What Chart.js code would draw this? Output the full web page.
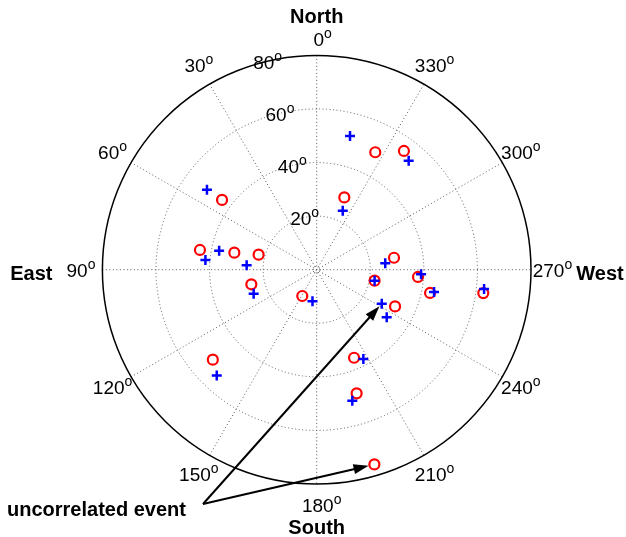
<!DOCTYPE html>
<html><head><meta charset="utf-8">
<script src="https://cdn.jsdelivr.net/npm/chart.js@4/dist/chart.umd.min.js"></script>
<style>html,body{margin:0;padding:0;background:#fff;}#wrap{width:626px;height:537px;position:relative;}</style>
</head><body><div id="wrap"><canvas id="c"></canvas></div>
<script>
// Sky plot: azimuth (deg, counter-clockwise from North, East on the left) and zenith angle (deg)
const redAzimuth = [333.5, 323.7, 53.6, 339.1, 80.4, 78.3, 75.5, 278.8, 259.3, 265.9, 258.4, 262.0, 244.9, 203.0, 197.9, 102.6, 151.3, 130.9, 196.5];
const redZenith  = [49.0, 55.0, 43.9, 28.9, 44.2, 31.4, 22.4, 29.2, 22.0, 37.9, 43.2, 62.8, 32.3, 35.7, 48.5, 25.0, 11.2, 51.3, 75.8];
const blueAzimuth = [346.0, 319.8, 53.9, 336.2, 79.0, 85.0, 86.4, 275.3, 259.3, 267.5, 259.2, 263.4, 242.4, 235.8, 207.6, 195.2, 110.9, 172.4, 136.6];
const blueZenith  = [51.4, 53.2, 50.7, 24.1, 37.1, 41.7, 26.2, 25.7, 22.0, 39.0, 44.6, 62.9, 27.4, 31.6, 37.6, 50.7, 25.2, 11.9, 54.3];
const ringValues = [20, 40, 60, 80];
const spokeAngles = [0, 30, 60, 90, 120, 150, 180, 210, 240, 270, 300, 330];
const cardinalLabels = ['North', 'East', 'South', 'West'];
const annotationText = 'uncorrelated event';
const uncorrelatedBlue = 12;
const uncorrelatedRed = 18;
const RMAX = 80;

const FONT = '"Liberation Sans", Arial, Helvetica, sans-serif';
const NUM_SIZE = 19;

function toXY(az, z) {
  const a = az * Math.PI / 180;
  return { x: -z * Math.sin(a), y: z * Math.cos(a) };
}

function degLabel(ctx, text, x, y, size) {
  ctx.textAlign = 'left';
  ctx.textBaseline = 'alphabetic';
  ctx.font = size + 'px ' + FONT;
  const w1 = ctx.measureText(text).width;
  const sup = Math.round(size * 0.76);
  ctx.font = sup + 'px ' + FONT;
  const w2 = ctx.measureText('o').width;
  const total = w1 + w2;
  const x0 = x - total / 2;
  const base = y + 0.358 * size;
  ctx.font = size + 'px ' + FONT;
  ctx.fillText(text, x0, base);
  ctx.font = sup + 'px ' + FONT;
  ctx.fillText('o', x0 + w1, base - 0.42 * size);
}

const polarGrid = {
  id: 'polarGrid',
  beforeDatasetsDraw(chart) {
    const ctx = chart.ctx, xs = chart.scales.x, ys = chart.scales.y;
    const cx = xs.getPixelForValue(0), cy = ys.getPixelForValue(0);
    const R = xs.getPixelForValue(RMAX) - cx;
    const k = R / RMAX;
    ctx.save();
    // dotted rings
    ctx.strokeStyle = '#5a5a5a';
    ctx.lineWidth = 1;
    ctx.setLineDash([1, 2.5]);
    ringValues.forEach(v => {
      if (v >= RMAX) return;
      ctx.beginPath(); ctx.arc(cx, cy, v * k, 0, Math.PI * 2); ctx.stroke();
    });
    ctx.beginPath(); ctx.arc(cx, cy, 3.5, 0, Math.PI * 2); ctx.stroke();
    // spokes
    spokeAngles.forEach(a => {
      if (a >= 180) return;
      const r = a * Math.PI / 180;
      ctx.beginPath();
      ctx.moveTo(cx - R * Math.sin(r), cy - R * Math.cos(r));
      ctx.lineTo(cx + R * Math.sin(r), cy + R * Math.cos(r));
      ctx.stroke();
    });
    ctx.setLineDash([]);
    // outer circle
    ctx.strokeStyle = '#000';
    ctx.lineWidth = 1.5;
    ctx.beginPath(); ctx.arc(cx, cy, R, 0, Math.PI * 2); ctx.stroke();
    // azimuth labels
    ctx.fillStyle = '#000';
    const rt = 1.1 * R;
    spokeAngles.forEach(a => {
      const r = a * Math.PI / 180;
      let nx = 0, ny = 0;
      if (a === 0) { nx = 6; ny = 5; }
      if (a === 180) { nx = 5; }
      degLabel(ctx, String(a), cx - rt * Math.sin(r) + nx, cy - rt * Math.cos(r) + ny, NUM_SIZE);
    });
    // radial labels
    const la = 13.3 * Math.PI / 180;
    ringValues.forEach(v => {
      const rr = v * k - 1;
      degLabel(ctx, String(v), cx - rr * Math.sin(la), cy - rr * Math.cos(la), NUM_SIZE);
    });
    // cardinal labels
    ctx.font = 'bold 20px ' + FONT;
    ctx.textAlign = 'center';
    ctx.textBaseline = 'middle';
    ctx.fillText(cardinalLabels[0], cx, cy - R - 38);
    ctx.fillText(cardinalLabels[2], cx, cy + R + 44);
    ctx.fillText(cardinalLabels[1], cx - R - 71, cy + 4.5);
    ctx.fillText(cardinalLabels[3], cx + R + 69, cy + 5);
    ctx.restore();
  },
  afterDatasetsDraw(chart) {
    const ctx = chart.ctx, xs = chart.scales.x, ys = chart.scales.y;
    ctx.save();
    ctx.fillStyle = '#000';
    ctx.font = 'bold 20px ' + FONT;
    ctx.textAlign = 'left';
    ctx.textBaseline = 'alphabetic';
    ctx.fillText(annotationText, 7, 516);
    const sx = 203, sy = 504;
    const targets = [
      [toXY(blueAzimuth[uncorrelatedBlue], blueZenith[uncorrelatedBlue]), 3.5],
      [toXY(redAzimuth[uncorrelatedRed], redZenith[uncorrelatedRed]), 6]
    ];
    ctx.strokeStyle = '#000';
    ctx.lineWidth = 2;
    targets.forEach(([p, gap]) => {
      const px = xs.getPixelForValue(p.x), py = ys.getPixelForValue(p.y);
      const dx = px - sx, dy = py - sy, L = Math.hypot(dx, dy);
      const ux = dx / L, uy = dy / L;
      const tx = px - ux * gap, ty = py - uy * gap;
      const hl = 15, hw = 5;
      const bx = tx - ux * hl, by = ty - uy * hl;
      ctx.beginPath(); ctx.moveTo(sx, sy); ctx.lineTo(bx + ux * 2, by + uy * 2); ctx.stroke();
      ctx.beginPath();
      ctx.moveTo(tx, ty);
      ctx.lineTo(bx - uy * hw, by + ux * hw);
      ctx.lineTo(bx + uy * hw, by - ux * hw);
      ctx.closePath(); ctx.fill();
    });
    ctx.restore();
  }
};

new Chart(document.getElementById('c'), {
  type: 'scatter',
  data: {
    datasets: [
      {
        label: 'red',
        data: redAzimuth.map((a, i) => toXY(a, redZenith[i])),
        pointStyle: 'circle', pointRadius: 5, borderWidth: 2.2,
        borderColor: '#ff0000', backgroundColor: 'rgba(0,0,0,0)', order: 1
      },
      {
        label: 'blue',
        data: blueAzimuth.map((a, i) => toXY(a, blueZenith[i])),
        pointStyle: 'cross', pointRadius: 5, borderWidth: 2.5,
        borderColor: '#0000ff', backgroundColor: '#0000ff', order: 0
      }
    ]
  },
  options: {
    responsive: true, maintainAspectRatio: false, animation: false,
    layout: { padding: { left: 102.4, right: 95, top: 55.4, bottom: 53 } },
    scales: {
      x: { type: 'linear', min: -RMAX, max: RMAX, display: false },
      y: { type: 'linear', min: -RMAX, max: RMAX, display: false }
    },
    plugins: { legend: { display: false }, tooltip: { enabled: false } },
    events: []
  },
  plugins: [polarGrid]
});
</script>
</body></html>
